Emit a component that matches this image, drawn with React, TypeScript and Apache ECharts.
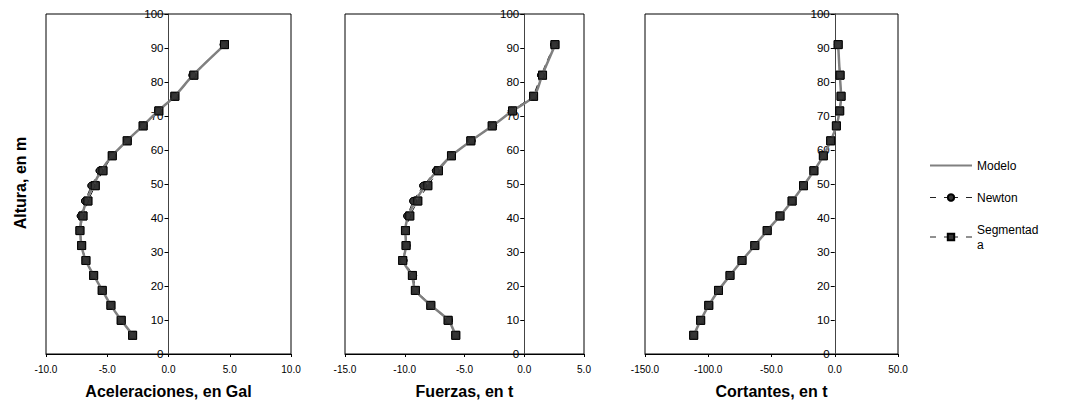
import React, { useEffect, useRef } from "react";
import * as echarts from "echarts";

const heights = [91, 82, 75.8, 71.5, 67.1, 62.7, 58.3, 53.9, 49.5, 45, 40.6, 36.3, 31.9, 27.5, 23.1, 18.7, 14.3, 9.9, 5.5];

const acelModelo = [4.6, 2.0, 0.5, -0.85, -2.1, -3.4, -4.6, -5.5, -6.15, -6.7, -7.05, -7.2, -7.1, -6.75, -6.1, -5.4, -4.7, -3.85, -2.9];
const acelNewton = [4.5, 1.95, 0.5, -0.85, -2.05, -3.35, -4.6, -5.63, -6.3, -6.82, -7.17, -7.23, -7.09, -6.74, -6.11, -5.41, -4.7, -3.86, -2.93];
const acelSegmentada = [4.57, 2.07, 0.52, -0.79, -2.07, -3.37, -4.59, -5.35, -5.98, -6.58, -6.98, -7.23, -7.09, -6.74, -6.11, -5.41, -4.7, -3.86, -2.93];

const fuerModelo = [2.6, 1.5, 0.8, -1.0, -2.65, -4.45, -6.1, -7.3, -8.3, -9.1, -9.7, -9.95, -9.9, -10.1, -9.4, -9.1, -7.8, -6.35, -5.75];
const fuerNewton = [2.5, 1.4, 0.75, -1.05, -2.6, -4.4, -6.1, -7.4, -8.46, -9.3, -9.8, -9.94, -9.85, -10.1, -9.3, -9.1, -7.8, -6.3, -5.75];
const fuerSegmentada = [2.57, 1.53, 0.78, -0.98, -2.68, -4.47, -6.09, -7.18, -8.07, -8.91, -9.58, -9.94, -9.89, -10.17, -9.36, -9.11, -7.82, -6.37, -5.73];

const cortModelo = [2.7, 4.0, 5.0, 3.9, 1.3, -3.2, -9.0, -16.5, -24.7, -33.7, -43.3, -53.4, -63.2, -73.3, -82.8, -91.9, -99.6, -106, -111.5];
const cortNewton = [2.5, 4.2, 5.0, 3.9, 1.3, -3.2, -9.0, -16.5, -24.7, -33.7, -43.3, -53.4, -63.2, -73.3, -82.8, -91.9, -99.6, -106, -111.5];
const cortSegmentada = [2.7, 4.2, 5.0, 3.9, 1.3, -3.2, -9.0, -16.5, -24.7, -33.7, -43.3, -53.4, -63.2, -73.3, -82.8, -91.9, -99.6, -106, -111.5];

const xTitles = ["Aceleraciones, en Gal", "Fuerzas, en t", "Cortantes, en t"];
const xRanges = [
  { min: -10, max: 10, interval: 5 },
  { min: -15, max: 5, interval: 5 },
  { min: -150, max: 50, interval: 50 },
];
const seriesNames = ["Modelo", "Newton", "Segmentada"];
const yTitle = "Altura, en m";

const panels = [
  [acelModelo, acelNewton, acelSegmentada],
  [fuerModelo, fuerNewton, fuerSegmentada],
  [cortModelo, cortNewton, cortSegmentada],
];

const FONT = '"Liberation Sans", Arial, sans-serif';

export default function App() {
  const ref = useRef<HTMLDivElement>(null);
  useEffect(() => {
    if (!ref.current) return;
    const chart = echarts.init(ref.current, undefined, { renderer: "svg" });
    const gridPos = [
      { left: 46, width: 245 },
      { left: 345, width: 239 },
      { left: 645, width: 253 },
    ];
    const grid = gridPos.map((g) => ({
      left: g.left,
      width: g.width,
      top: 14,
      height: 340,
      show: true,
      borderColor: "#000",
      borderWidth: 1,
      backgroundColor: "transparent",
      containLabel: false,
    }));
    const xAxis = xRanges.map((r, i) => ({
      type: "value",
      gridIndex: i,
      min: r.min,
      max: r.max,
      interval: r.interval,
      name: xTitles[i],
      nameLocation: "middle",
      nameGap: 29,
      nameTextStyle: { fontFamily: FONT, fontWeight: "bold", fontSize: 16, color: "#000" },
      axisLine: { onZero: false, lineStyle: { color: "#000", width: 1 } },
      axisTick: { show: true, inside: false, length: 3, lineStyle: { color: "#000" } },
      axisLabel: {
        fontFamily: FONT,
        fontSize: 10,
        color: "#000",
        margin: 10,
        formatter: (v: number) => v.toFixed(1),
        showMinLabel: true,
        showMaxLabel: true,
      },
      splitLine: { show: false },
    }));
    const yAxis = xRanges.map((r, i) => ({
      type: "value",
      gridIndex: i,
      min: 0,
      max: 100,
      interval: 10,
      position: "left",
      offset: -((0 - r.min) / (r.max - r.min)) * gridPos[i].width,
      axisLine: { onZero: false, lineStyle: { color: "#444", width: 1 } },
      axisTick: { show: true, inside: false, length: 4, lineStyle: { color: "#000" } },
      axisLabel: {
        fontFamily: FONT,
        fontSize: 11.5,
        color: "#000",
        margin: 5,
        showMinLabel: true,
        showMaxLabel: true,
      },
      splitLine: { show: false },
    }));
    const series: any[] = [];
    panels.forEach((p, i) => {
      const pts = (arr: number[]) => arr.map((v, k) => [v, heights[k]]);
      series.push({
        name: seriesNames[1],
        type: "line",
        xAxisIndex: i,
        yAxisIndex: i,
        data: pts(p[1]),
        symbol: "circle",
        symbolSize: 7,
        color: "#333",
        itemStyle: { color: "#333", borderColor: "#000", borderWidth: 1 },
        lineStyle: { color: "#222", width: 1, type: [6, 5] },
        z: 2,
      });
      series.push({
        name: seriesNames[2],
        type: "line",
        xAxisIndex: i,
        yAxisIndex: i,
        data: pts(p[2]),
        symbol: "rect",
        symbolSize: 8,
        color: "#333",
        itemStyle: { color: "#333", borderColor: "#000", borderWidth: 1 },
        lineStyle: { color: "#222", width: 1, type: [6, 5] },
        z: 3,
      });
      series.push({
        name: seriesNames[0],
        type: "line",
        xAxisIndex: i,
        yAxisIndex: i,
        data: pts(p[0]),
        symbol: "none",
        smooth: 0.3,
        color: "#808080",
        lineStyle: { color: "#808080", width: 2.5 },
        z: 4,
      });
      series.push({
        name: seriesNames[1],
        type: "scatter",
        xAxisIndex: i,
        yAxisIndex: i,
        data: pts(p[1]),
        symbol: "circle",
        symbolSize: 7,
        itemStyle: { color: "#333", borderColor: "#000", borderWidth: 1 },
        z: 5,
      });
      series.push({
        name: seriesNames[2],
        type: "scatter",
        xAxisIndex: i,
        yAxisIndex: i,
        data: pts(p[2]),
        symbol: "rect",
        symbolSize: 8,
        itemStyle: { color: "#333", borderColor: "#000", borderWidth: 1 },
        z: 6,
      });
    });
    const legendDash = { type: [6, 8, 14, 8], width: 1, color: "#222" };
    chart.setOption({
      animation: false,
      grid,
      xAxis,
      yAxis,
      series,
      legend: {
        data: [
          { name: "Modelo", itemStyle: { opacity: 0 } },
          { name: "Newton", lineStyle: legendDash },
          { name: "Segmentada", lineStyle: legendDash },
        ],
        orient: "vertical",
        left: 924,
        top: 153,
        itemWidth: 42,
        itemHeight: 8,
        itemGap: 17,
        textStyle: {
          fontFamily: FONT,
          fontSize: 12,
          color: "#000",
          width: 66,
          overflow: "breakAll",
          lineHeight: 15,
        },
        selectedMode: false,
      },
      graphic: [
        {
          type: "text",
          x: 20,
          y: 183,
          rotation: Math.PI / 2,
          style: {
            text: yTitle,
            font: 'bold 16px "Liberation Sans", Arial, sans-serif',
            fill: "#000",
            align: "center",
            verticalAlign: "middle",
          },
        },
      ],
    });
    return () => chart.dispose();
  }, []);
  return (
    <div
      ref={ref}
      style={{ position: "fixed", left: 0, top: 0, width: 1066, height: 409, background: "#fff" }}
    />
  );
}
